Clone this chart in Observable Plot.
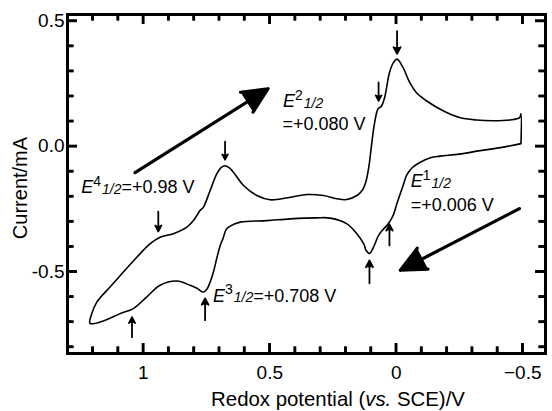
<!DOCTYPE html>
<html><head><meta charset="utf-8">
<script src="https://cdn.jsdelivr.net/npm/d3@7"></script>
<script src="https://cdn.jsdelivr.net/npm/@observablehq/plot@0.6"></script>
<style>body{margin:0;background:#fff} svg{display:block}</style>
</head><body><div id="chart"></div>
<script>
// Lower branch (scan from -0.49 V towards +1.21 V)
const lowerV = [-0.493,-0.412,-0.332,-0.249,-0.174,-0.135,-0.091,-0.063,-0.042,-0.027,-0.016,0.000,0.011,0.026,0.037,0.050,0.070,0.090,0.106,0.119,0.129,0.156,0.195,0.261,0.314,0.419,0.512,0.617,0.657,0.673,0.685,0.696,0.710,0.723,0.736,0.749,0.763,0.788,0.815,0.868,0.934,0.987,1.040,1.092,1.158,1.211];
const lowerI = [0.011,-0.005,-0.017,-0.031,-0.039,-0.045,-0.065,-0.085,-0.113,-0.156,-0.188,-0.236,-0.272,-0.300,-0.315,-0.329,-0.355,-0.402,-0.427,-0.415,-0.388,-0.348,-0.309,-0.286,-0.285,-0.289,-0.296,-0.302,-0.318,-0.332,-0.367,-0.395,-0.447,-0.501,-0.541,-0.570,-0.581,-0.566,-0.554,-0.537,-0.554,-0.601,-0.647,-0.667,-0.696,-0.706];
// Upper branch (scan from +1.21 V back to -0.49 V)
const upperV = [1.204,1.184,1.132,1.079,1.026,0.973,0.934,0.881,0.828,0.802,0.776,0.763,0.736,0.710,0.693,0.677,0.661,0.644,0.604,0.551,0.499,0.419,0.353,0.288,0.235,0.195,0.156,0.135,0.121,0.109,0.099,0.087,0.072,0.059,0.046,0.027,0.012,-0.003,-0.027,-0.053,-0.079,-0.119,-0.185,-0.250,-0.317,-0.383,-0.448,-0.488,-0.493];
const upperI = [-0.667,-0.621,-0.561,-0.501,-0.442,-0.388,-0.362,-0.348,-0.322,-0.296,-0.256,-0.243,-0.176,-0.110,-0.085,-0.077,-0.085,-0.103,-0.156,-0.196,-0.213,-0.203,-0.192,-0.196,-0.209,-0.212,-0.196,-0.176,-0.144,-0.085,-0.005,0.086,0.150,0.160,0.195,0.294,0.333,0.348,0.314,0.255,0.215,0.182,0.142,0.115,0.105,0.102,0.105,0.115,0.130];

// Scan direction arrows
const scanX1 = [1.033, -0.487], scanY1 = [-0.105, -0.248];
const scanX2 = [0.507, -0.016], scanY2 = [0.230, -0.494];

// Peak marker arrows (down on upper branch, up on lower branch)
const peakArrowV    = [-0.003, 0.070, 0.677, 0.941, 1.045, 0.756, 0.106, 0.027];
const peakArrowTail = [0.460, 0.255, 0.019, -0.260, -0.761, -0.693, -0.546, -0.395];
const peakArrowHead = [0.369, 0.182, -0.053, -0.339, -0.681, -0.606, -0.455, -0.311];

// Annotations: E^n_1/2 labels
const annSup  = ["4", "2", "1", "3"];
const annV    = [1.244, 0.446, -0.059, 0.723];
const annI    = [-0.188, 0.155, -0.164, -0.621];
const annRest = ["=+0.98 V", "", "", "=+0.708 V"];
const ann2Text = ["=+0.080 V", "=+0.006 V"];
const ann2V = [0.448, -0.059];
const ann2I = [0.062, -0.260];

// Axis domains and ticks
const xDomain = [1.3, -0.59];
const yDomain = [-0.826, 0.526];
const xMajor = [1, 0.5, 0, -0.5];
const xMinor = [1.2, 1.1, 0.9, 0.8, 0.7, 0.6, 0.4, 0.3, 0.2, 0.1, -0.1, -0.2, -0.3, -0.4];
const yMajor = [0.5, 0, -0.5];
const yMinor = [0.4, 0.3, 0.2, 0.1, -0.1, -0.2, -0.3, -0.4, -0.6, -0.7, -0.8];
const xTickLabels = ["1", "0.5", "0", "\u22120.5"];
const yTickLabels = ["0.5", "0.0", "-0.5"];

const cv = [];
lowerV.forEach((v, k) => cv.push({v, i: lowerI[k]}));
upperV.forEach((v, k) => cv.push({v, i: upperI[k]}));
cv.push({v: lowerV[0], i: lowerI[0]});

const scan = scanX1.map((x1, k) => ({x1, y1: scanY1[k], x2: scanX2[k], y2: scanY2[k]}));
const peaks = peakArrowV.map((v, k) => ({v, t: peakArrowTail[k], h: peakArrowHead[k]}));

const W = 552, H = 411, mL = 67, mR = 7, mT = 14, mB = 58;
const font = "'Liberation Sans', Arial, Helvetica, sans-serif";
// data units per pixel, so that tick lengths are given in pixels
const kX = (xDomain[0] - xDomain[1]) / (W - mL - mR);
const kY = (yDomain[1] - yDomain[0]) / (H - mT - mB);
const tickStyle = {stroke: "black", strokeWidth: 2.4};
function ticksX(values, len) {
  return [
    Plot.ruleX(values, {x: (d) => d, y1: yDomain[0], y2: yDomain[0] + len * kY, ...tickStyle}),
    Plot.ruleX(values, {x: (d) => d, y1: yDomain[1], y2: yDomain[1] - len * kY, ...tickStyle})
  ];
}
function ticksY(values, len) {
  return [
    Plot.ruleY(values, {y: (d) => d, x1: xDomain[0], x2: xDomain[0] - len * kX, ...tickStyle}),
    Plot.ruleY(values, {y: (d) => d, x1: xDomain[1], x2: xDomain[1] + len * kX, ...tickStyle})
  ];
}

const chart = Plot.plot({
  width: W, height: H,
  marginLeft: mL, marginRight: mR, marginTop: mT, marginBottom: mB,
  x: {domain: xDomain, axis: null},
  y: {domain: yDomain, axis: null},
  style: {fontFamily: font, background: "white", color: "black"},
  marks: [
    Plot.line(cv, {x: "v", y: "i", stroke: "black", strokeWidth: 1.6, curve: "catmull-rom"}),
    Plot.arrow(scan, {x1: "x1", y1: "y1", x2: "x2", y2: "y2", stroke: "black", fill: "black", strokeWidth: 3.2, headLength: 13, headAngle: 50}),
    Plot.arrow(peaks, {x1: "v", y1: "t", x2: "v", y2: "h", stroke: "black", fill: "black", strokeWidth: 1.8, headLength: 7, headAngle: 55}),
    ...ticksX(xMajor, 10), ...ticksX(xMinor, 6.5),
    ...ticksY(yMajor, 10), ...ticksY(yMinor, 6.5),
    Plot.axisX(xMajor, {anchor: "bottom", tickSize: 0, tickPadding: 12, label: null, fontSize: 19,
      tickFormat: (d) => xTickLabels[xMajor.indexOf(d)]}),
    Plot.axisY(yMajor, {anchor: "left", tickSize: 0, tickPadding: 3, label: null, fontSize: 19,
      tickFormat: (d) => yTickLabels[yMajor.indexOf(d)]}),
    Plot.frame({stroke: "black", strokeWidth: 3})
  ]
});
document.getElementById("chart").appendChild(chart);

const sx = chart.scale("x"), sy = chart.scale("y");
const svg = d3.select(chart);
const g = svg.append("g").attr("font-family", font).attr("fill", "black").attr("text-anchor", "start");

function eLabel(x, y, sup, rest) {
  const t = g.append("text").attr("x", x).attr("y", y).attr("font-size", 18);
  t.append("tspan").attr("font-style", "italic").text("E");
  t.append("tspan").attr("font-size", 14).attr("dy", -7.5).text(sup);
  t.append("tspan").attr("font-size", 14).attr("font-style", "italic").attr("dx", 1).attr("dy", 8).text("1/2");
  if (rest) t.append("tspan").attr("dy", -0.5).text(rest);
}
annSup.forEach((s, k) => eLabel(sx.apply(annV[k]), sy.apply(annI[k]), s, annRest[k]));
ann2Text.forEach((s, k) => g.append("text").attr("x", sx.apply(ann2V[k])).attr("y", sy.apply(ann2I[k])).attr("font-size", 18).text(s));

// Axis titles
const xt = g.append("text").attr("x", 338).attr("y", 406).attr("text-anchor", "middle").attr("font-size", 20.4);
xt.append("tspan").text("Redox potential (");
xt.append("tspan").attr("font-style", "italic").text("vs.");
xt.append("tspan").text(" SCE)/V");
g.append("text").attr("transform", "translate(27,188) rotate(-90)").attr("text-anchor", "middle").attr("font-size", 20).text("Current/mA");

// Reinforce the inward ticks at the same scale positions
try {
  const tg = svg.append("g").attr("stroke", "black").attr("stroke-width", 2.4);
  const yB = sy.apply(yDomain[0]), yT = sy.apply(yDomain[1]);
  const xL = sx.apply(xDomain[0]), xR = sx.apply(xDomain[1]);
  [[xMajor, 10], [xMinor, 6.5]].forEach(([vals, len]) => vals.forEach((v) => {
    const x = sx.apply(v);
    tg.append("line").attr("x1", x).attr("x2", x).attr("y1", yB).attr("y2", yB - len);
    tg.append("line").attr("x1", x).attr("x2", x).attr("y1", yT).attr("y2", yT + len);
  }));
  [[yMajor, 10], [yMinor, 6.5]].forEach(([vals, len]) => vals.forEach((v) => {
    const y = sy.apply(v);
    tg.append("line").attr("y1", y).attr("y2", y).attr("x1", xL).attr("x2", xL + len);
    tg.append("line").attr("y1", y).attr("y2", y).attr("x1", xR).attr("x2", xR - len);
  }));
} catch (e) {}
</script></body></html>
